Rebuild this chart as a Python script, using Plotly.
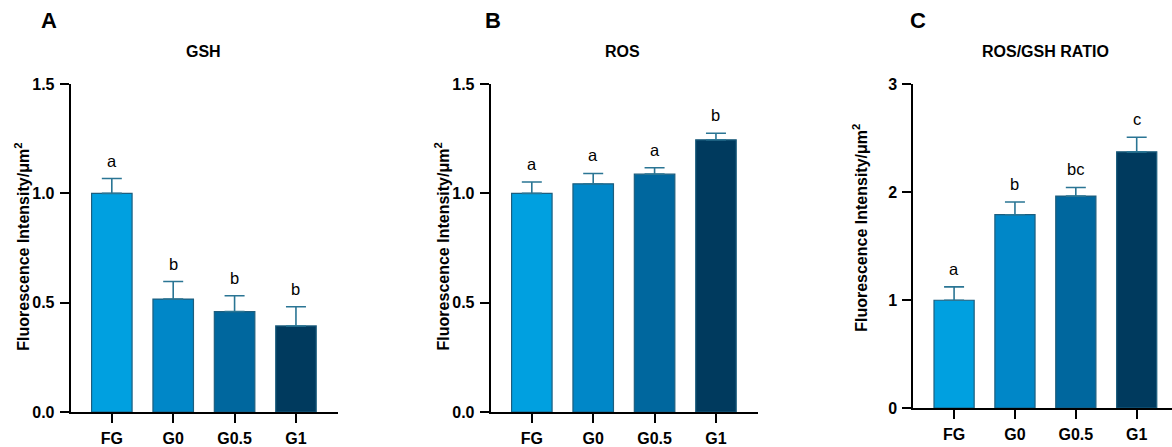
import plotly.graph_objects as go

categories = ["FG", "G0", "G0.5", "G1"]

gsh_mean = [1.0, 0.517, 0.46, 0.394]
gsh_err = [0.068, 0.08, 0.072, 0.088]
gsh_letters = ["a", "b", "b", "b"]

ros_mean = [1.0, 1.044, 1.088, 1.245]
ros_err = [0.052, 0.047, 0.029, 0.03]
ros_letters = ["a", "a", "a", "b"]

ratio_mean = [1.0, 1.793, 1.965, 2.375]
ratio_err = [0.124, 0.117, 0.08, 0.135]
ratio_letters = ["a", "b", "bc", "c"]

panel_labels = ["A", "B", "C"]
panel_titles = ["GSH", "ROS", "ROS/GSH RATIO"]

bar_colors = ["#00A0E0", "#0087C8", "#00679E", "#003A5E"]
outline_color = "#1D5E7E"
err_color = "#2A7594"
FONT = "Liberation Sans, Arial, sans-serif"

W, H = 1172, 447
# vertical compensation for the capture (observed: rendered = 8.8 + 0.9635 * intended)
def vy(y):
    return (y - 8.8) / 0.9635

fig = go.Figure()

panels = [
    (gsh_mean, gsh_err, gsh_letters, [70.7, 337.7], [415.5, 85.3], [0, 1.5], 0.5, ".1f", [-0.67, 3.68]),
    (ros_mean, ros_err, ros_letters, [490.7, 757.7], [415.5, 85.3], [0, 1.5], 0.5, ".1f", [-0.67, 3.68]),
    (ratio_mean, ratio_err, ratio_letters, [913.3, 1172], [411.5, 85.7], [0, 3], 1, "d", [-0.67, 3.58]),
]

ytitle_pos = [(22, 249), (441.7, 249), (860, 230)]
plabel_pos = [(49, 21.7), (493, 21.7), (918, 21.7)]
title_pos = [(203, 53), (622.7, 53), (1045, 53)]

for i, (mean, err, letters, xd, yd, yr, dt, fmt, xr) in enumerate(panels):
    n = "" if i == 0 else str(i + 1)
    xa = "x" + n
    ya = "y" + n
    fig.add_trace(go.Bar(
        x=list(range(len(categories))), y=mean,
        marker=dict(color=bar_colors, line=dict(color=outline_color, width=1.2)),
        width=0.66,
        error_y=dict(type="data", array=err, arrayminus=[0] * len(err), symmetric=False,
                     color=err_color, thickness=1.6, width=10),
        xaxis=xa, yaxis=ya, showlegend=False, hoverinfo="skip",
    ))
    fig.layout["xaxis" + n] = dict(
        domain=[xd[0] / W, xd[1] / W], anchor=ya, range=xr,
        tickmode="array", tickvals=list(range(len(categories))), ticktext=categories,
        showline=True, linecolor="black", linewidth=2,
        ticks="outside", ticklen=9, tickwidth=2, tickcolor="black",
        showgrid=False, zeroline=False, fixedrange=True,
        tickfont=dict(family=FONT, size=16, color="black", weight="bold"),
        ticklabelstandoff=2,
    )
    fig.layout["yaxis" + n] = dict(
        domain=[1 - vy(yd[0]) / H, 1 - vy(yd[1]) / H], anchor=xa, range=yr,
        tickmode="linear", tick0=0, dtick=dt, tickformat=fmt,
        showline=True, linecolor="black", linewidth=2,
        ticks="outside", ticklen=9, tickwidth=2, tickcolor="black",
        showgrid=False, zeroline=False, fixedrange=True,
        tickfont=dict(family=FONT, size=16, color="black", weight="bold"),
        ticklabelstandoff=2,
    )
    for j, lt in enumerate(letters):
        fig.add_annotation(
            x=j, y=mean[j] + err[j], xref=xa, yref=ya, text=lt, showarrow=False,
            yanchor="bottom", yshift=7,
            font=dict(family=FONT, size=16.5, color="black"),
        )
    tx, ty = ytitle_pos[i]
    fig.add_annotation(
        x=tx / W, y=1 - vy(ty) / H, xref="paper", yref="paper",
        text="Fluorescence Intensity/μm<sup>2</sup>", textangle=-90, showarrow=False,
        xanchor="center", yanchor="middle",
        font=dict(family=FONT, size=16, color="black", weight="bold"),
    )
    px, py = plabel_pos[i]
    fig.add_annotation(
        x=px / W, y=1 - vy(py) / H, xref="paper", yref="paper", text=panel_labels[i],
        showarrow=False, xanchor="center", yanchor="middle",
        font=dict(family=FONT, size=22, color="black", weight="bold"),
    )
    qx, qy = title_pos[i]
    fig.add_annotation(
        x=qx / W, y=1 - vy(qy) / H, xref="paper", yref="paper", text=panel_titles[i],
        showarrow=False, xanchor="center", yanchor="middle",
        font=dict(family=FONT, size=16, color="black", weight="bold"),
    )

fig.update_layout(
    width=W, height=H, margin=dict(l=0, r=0, t=0, b=0),
    paper_bgcolor="white", plot_bgcolor="white",
    bargap=0.3,
)

fig.write_html("out.html")
